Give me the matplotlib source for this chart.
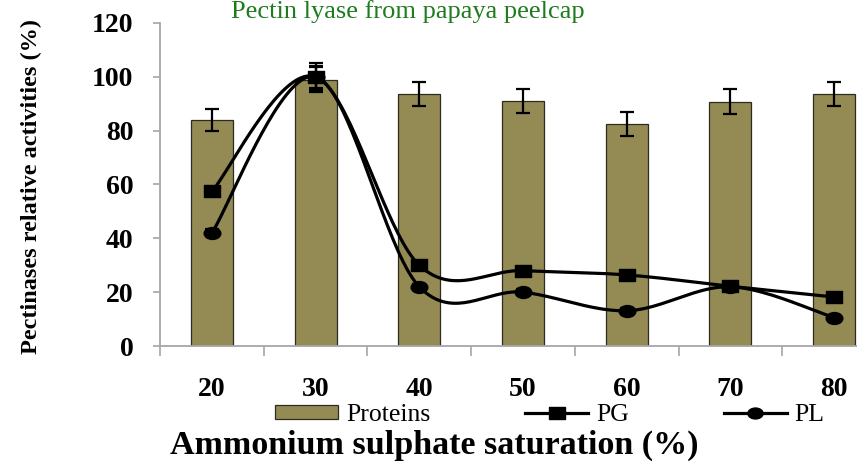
import numpy as np
import matplotlib
matplotlib.use('Agg')
import matplotlib.pyplot as plt
from matplotlib.path import Path
from matplotlib.transforms import Affine2D
from matplotlib.lines import Line2D
from matplotlib.patches import Patch

# ---- data ----
categories = ['20', '30', '40', '50', '60', '70', '80']
proteins = [84, 99, 93.5, 91, 82.5, 90.8, 93.5]
proteins_err = [4, 4.5, 4.5, 4.5, 4.3, 4.5, 4.5]
pg = [57.4, 100, 30, 28, 26.4, 22.2, 18.2]
pg_err = [1.8, 5, 1, 1, 1, 1, 1]
pl = [42, 100, 22, 20, 13.1, 22, 10.5]
pl_err = [1.3, 4, 1, 1, 1, 1, 1]
yticks = [0, 20, 40, 60, 80, 100, 120]
title = 'Pectin lyase from papaya peelcap'
ylabel = 'Pectinases relative activities (%)'
xlabel = 'Ammonium sulphate saturation (%)'
legend_labels = ['Proteins', 'PG', 'PL']

BAR = '#948a54'
EDGE = '#2b2b1f'
SPINE = '#a6a6a6'
SERIF = 'Liberation Serif'


def smooth(xs, ys, n=40):
    """Excel-like smoothed line (cubic Bezier through the points)."""
    P = np.column_stack([xs, ys]).astype(float)
    ext = np.vstack([P[0], P, P[-1]])
    out = []
    t = np.linspace(0, 1, n)[:, None]
    for i in range(len(P) - 1):
        p0, p1, p2, p3 = ext[i], ext[i + 1], ext[i + 2], ext[i + 3]
        c1 = p1 + (p2 - p0) / 6
        c2 = p2 - (p3 - p1) / 6
        seg = (1 - t) ** 3 * p1 + 3 * (1 - t) ** 2 * t * c1 + 3 * (1 - t) * t ** 2 * c2 + t ** 3 * p2
        out.append(seg if i == 0 else seg[1:])
    s = np.vstack(out)
    return s[:, 0], s[:, 1]


sq_marker = Path([(-1.45, -1), (1.45, -1), (1.45, 1), (-1.45, 1), (-1.45, -1)],
                 [Path.MOVETO, Path.LINETO, Path.LINETO, Path.LINETO, Path.CLOSEPOLY])
circ_marker = Path.unit_circle().transformed(Affine2D().scale(1.4, 1.0))

fig = plt.figure(figsize=(8.57, 4.61), dpi=100)
ax = fig.add_axes([160 / 857, 115 / 461, 726 / 857, 323 / 461])

x = np.arange(len(categories))
ax.bar(x, proteins, width=0.405, color=BAR, edgecolor=EDGE, linewidth=0.9, zorder=2)
ax.errorbar(x, proteins, yerr=proteins_err, fmt='none', ecolor='black',
            elinewidth=1.6, capsize=5, capthick=1.6, zorder=3)

for vals, errs, mk in [(pg, pg_err, sq_marker), (pl, pl_err, circ_marker)]:
    sx, sy = smooth(x, vals)
    ax.plot(sx, sy, color='black', lw=2.3, zorder=4, solid_capstyle='round')
    ax.errorbar(x, vals, yerr=errs, fmt='none', ecolor='black',
                elinewidth=1.6, capsize=5, capthick=1.6, zorder=4)
    ax.plot(x, vals, linestyle='none', marker=mk, ms=12, color='black', zorder=5)

ax.set_xlim(-0.5, len(categories) - 0.5)
ax.set_ylim(0, 120)

for s in ['top', 'right']:
    ax.spines[s].set_visible(False)
for s in ['left', 'bottom']:
    ax.spines[s].set_color(SPINE)
    ax.spines[s].set_linewidth(1.3)

ax.set_yticks(yticks)
ax.set_yticklabels([str(v) for v in yticks], fontfamily=SERIF, fontweight='bold', fontsize=20)
ax.tick_params(axis='y', direction='out', length=5, width=1.2, color=SPINE, pad=14)

ax.set_xticks(x)
ax.set_xticklabels(categories, fontfamily=SERIF, fontweight='bold', fontsize=20)
ax.tick_params(axis='x', which='major', length=0, pad=22)
ax.set_xticks(np.arange(-0.5, len(categories)), minor=True)
ax.tick_params(axis='x', which='minor', direction='out', length=7, width=1.2, color=SPINE)

fig.text(31 / 857, 1 - 187 / 461, ylabel, rotation=90, ha='center', va='center',
         fontfamily=SERIF, fontweight='bold', fontsize=17.5)
fig.text(434 / 857, 7 / 461, xlabel, ha='center', va='baseline',
         fontfamily=SERIF, fontweight='bold', fontsize=24.5)
fig.text(408 / 857, 1 - 18 / 461, title, ha='center', va='baseline',
         fontfamily=SERIF, fontsize=19, color='#1e7b1e')

handles = [Patch(facecolor=BAR, edgecolor=EDGE, linewidth=0.9),
           Line2D([], [], color='black', lw=2.3, marker=sq_marker, ms=12),
           Line2D([], [], color='black', lw=2.3, marker=circ_marker, ms=11)]
fig.legend(handles, legend_labels, loc='center', bbox_to_anchor=(550 / 857, 46 / 461),
           ncol=3, frameon=False, prop={'family': SERIF, 'size': 18.5},
           handlelength=2.45, handleheight=0.5, columnspacing=3.7,
           handletextpad=0.3, borderpad=0, borderaxespad=0)

fig.savefig('out.png', dpi=100)
